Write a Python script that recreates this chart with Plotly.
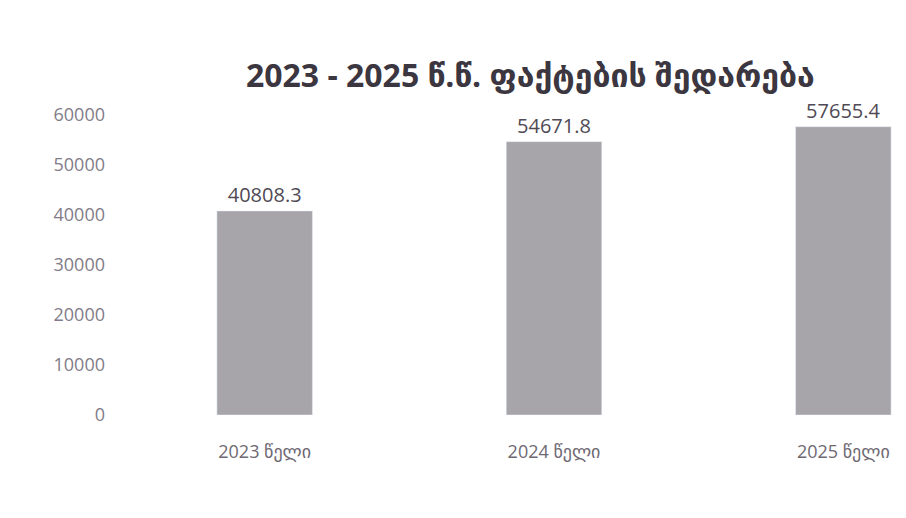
import plotly.graph_objects as go

categories = ["2023 წელი", "2024 წელი", "2025 წელი"]
values = [40808.3, 54671.8, 57655.4]
value_labels = ["40808.3", "54671.8", "57655.4"]
y_ticks = [0, 10000, 20000, 30000, 40000, 50000, 60000]

font_family = "Open Sans, DejaVu Sans, sans-serif"
text_color = "#827c88"

fig = go.Figure(
    go.Bar(
        x=categories,
        y=values,
        text=value_labels,
        textposition="outside",
        textfont=dict(size=20, color="#4f4a55", family=font_family),
        marker=dict(color="#a7a5aa"),
        cliponaxis=False,
    )
)

fig.update_layout(
    width=980,
    height=518,
    paper_bgcolor="white",
    plot_bgcolor="white",
    margin=dict(l=112, r=0, t=107, b=111),
    bargap=0.67,
    showlegend=False,
    font=dict(family=font_family, color=text_color),
    title=dict(
        text="<b>2023 - 2025 წ.წ. ფაქტების შედარება</b>",
        x=0.533,
        xanchor="center",
        y=0.87,
        yanchor="middle",
        font=dict(size=32, color="#3b3640", family=font_family),
    ),
)

fig.update_xaxes(
    showgrid=False,
    showline=False,
    ticks="",
    ticklabelstandoff=24,
    tickfont=dict(size=18, color="#6e6872"),
)
fig.update_yaxes(
    range=[0, 60000],
    tickvals=y_ticks,
    ticktext=[str(v) for v in y_ticks],
    showgrid=False,
    zeroline=False,
    showline=False,
    ticks="",
    ticklabelstandoff=14,
    tickfont=dict(size=18, color=text_color),
)

fig.write_html("out.html")
